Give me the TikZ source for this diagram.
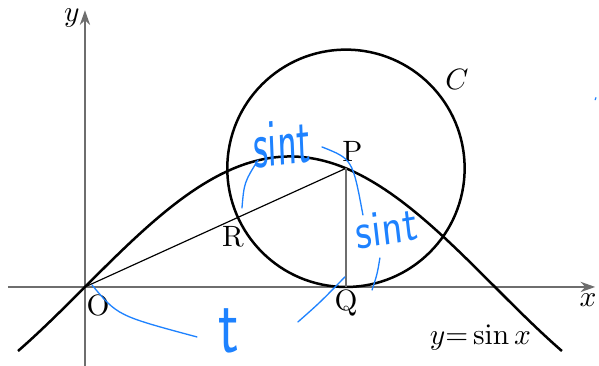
\documentclass[tikz,border=0pt]{standalone}
\usepackage{amsmath,amssymb}
\usetikzlibrary{arrows.meta, calc}
\definecolor{axisgray}{RGB}{110, 110, 110}
\definecolor{inkblue}{RGB}{30, 130, 255}

\begin{document}
\begin{tikzpicture}[
    x=1.56cm, y=1.56cm,
    >={Stealth[length=5pt, width=3.5pt]},
    axis line/.style={axisgray, line width=0.55pt},
    main line/.style={black, line width=0.85pt},
    ink/.style={inkblue, line width=0.45pt, line cap=round},
    ink text/.style={text=inkblue, font=\sffamily, inner sep=0pt}
]

% keep the margins of the reference
\useasboundingbox (-0.651, -0.605) rectangle (3.939, 2.199);

% =============================================
% Axes
% =============================================
\draw[axis line, ->] (-0.59, 0) -- (3.91, 0);
\draw[axis line, ->] (0, -0.605) -- (0, 2.12);
\node[font=\normalsize] (xlab) at (3.855, -0.10) {$x$};
\node[font=\normalsize] (ylab) at (-0.10, 2.06) {$y$};

% Points
\coordinate (O) at (0, 0);
\coordinate (P) at (2, {sin(2 r)});
\coordinate (Q) at (2, 0);
\coordinate (R) at (1.17224, 0.53296);

% =============================================
% Curve y = sin x and circle C
% =============================================
\draw[main line, domain=-0.513:3.655, smooth, samples=90]
    plot (\x, {sin(\x r)});
\draw[main line] (P) circle (0.9093);

% Segments OP and PQ
\draw[black, line width=0.4pt] (O) -- (P);
\draw[axis line] (P) -- (Q);

% Labels
\node (Olab) at (0.10, -0.14) {O};
\node (Plab) at (2.05, 1.04) {P};
\node (Qlab) at (2.0, -0.12) {Q};
\node (Rlab) at (1.134, 0.383) {R};
\node (Clab) at (2.85, 1.59) {$C$};
\node (flab) at (3.03, -0.39) {$y{=}\sin x$};

% =============================================
% Blue handwritten notes
% =============================================
\node[ink text, font=\sffamily\LARGE, xscale=0.8, yscale=1.35, rotate=4] (note1) at (1.51, 1.10) {sint};
\node[ink text, font=\sffamily\Large, yscale=1.2, rotate=8] (note2) at (2.31, 0.45) {sint};
\node[ink text, font=\sffamily\huge, yscale=1.3] (note3) at (1.10, -0.34) {t};

% marks of the handwriting
\draw[ink] (0.054, 0.015) .. controls (0.25, -0.22) .. (0.858, -0.383);
\draw[ink] (1.632, -0.268) .. controls (1.80, -0.12) .. (1.992, 0.077);
\draw[ink] (1.203, 0.605) .. controls (1.22, 0.80) .. (1.326, 0.973);
\draw[ink] (1.816, 1.073) .. controls (2.05, 0.98) .. (2.130, 0.552);
\draw[ink] (2.26, 0.222) .. controls (2.24, 0.10) .. (2.20, -0.023);
\draw[ink] (3.91, 1.435) -- (3.915, 1.45);

\end{tikzpicture}
\end{document}
